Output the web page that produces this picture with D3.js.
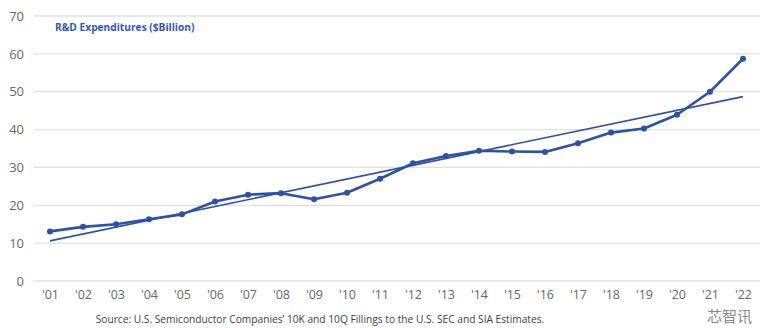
<!DOCTYPE html>
<html><head><meta charset="utf-8">
<script src="https://cdn.jsdelivr.net/npm/d3@7"></script>
<style>body{margin:0;background:#fff}svg{display:block}</style>
</head><body>
<svg id="c" width="771" height="328"></svg>
<script>
const years = ["'01","'02","'03","'04","'05","'06","'07","'08","'09","'10","'11","'12","'13","'14","'15","'16","'17","'18","'19","'20","'21","'22"];
const rd = [13.1,14.3,15.0,16.3,17.6,21.0,22.8,23.2,21.6,23.3,27.0,31.1,33.0,34.4,34.2,34.1,36.4,39.2,40.3,43.9,50.0,58.7];
const trend = [10.6,48.7];
const yTicks = [0,10,20,30,40,50,60,70];
const title = "R&D Expenditures ($Billion)";
const source = "Source: U.S. Semiconductor Companies\u2019 10K and 10Q Fillings to the U.S. SEC and SIA Estimates.";
const watermark = "芯智讯";

const svg = d3.select("#c");
const x = d3.scalePoint().domain(years).range([50,743]);
const y = d3.scaleLinear().domain([0,70]).range([281,16]);
const col = "#2b51a9";

const grid = svg.append("g");
grid.selectAll("line").data(yTicks).join("line")
  .attr("x1",34).attr("x2",760).attr("y1",d=>y(d)).attr("y2",d=>y(d))
  .attr("stroke","#e0e0e0").attr("stroke-width",1.3);

const yAxis = d3.axisLeft(y).tickValues(yTicks).tickSize(0).tickPadding(0);
svg.append("g").attr("transform","translate(24,0)").call(yAxis)
  .call(g=>g.select(".domain").remove())
  .selectAll("text").attr("font-family","Open Sans, sans-serif").attr("font-size",13).attr("fill","#666");

const xAxis = d3.axisBottom(x).tickSize(0).tickPadding(0);
svg.append("g").attr("transform","translate(0,290)").call(xAxis)
  .call(g=>g.select(".domain").remove())
  .selectAll("text").attr("font-family","Open Sans, sans-serif").attr("font-size",12.5).attr("fill","#666");

svg.append("line")
  .attr("x1",x(years[0])).attr("y1",y(trend[0]))
  .attr("x2",x(years[years.length-1])).attr("y2",y(trend[1]))
  .attr("stroke",col).attr("stroke-width",1.6);

const line = d3.line().x((d,i)=>x(years[i])).y(d=>y(d));
svg.append("path").datum(rd).attr("d",line).attr("fill","none")
  .attr("stroke",col).attr("stroke-width",2.6).attr("stroke-linejoin","round");
svg.append("g").selectAll("circle").data(rd).join("circle")
  .attr("cx",(d,i)=>x(years[i])).attr("cy",d=>y(d)).attr("r",3).attr("fill",col);

svg.append("text").attr("x",55).attr("y",31).text(title)
  .attr("font-family","Open Sans, sans-serif").attr("font-weight","bold").attr("font-size",10.2).attr("fill","#2f56c4");

svg.append("text").attr("x",320).attr("y",323).attr("text-anchor","middle").text(source)
  .attr("font-family","Open Sans, sans-serif").attr("font-size",10.2).attr("fill","#404040");

svg.append("text").attr("x",752).attr("y",322).attr("text-anchor","end").text(watermark)
  .attr("font-family","Noto Sans CJK SC").attr("font-size",15).attr("fill","#888");
</script>
</body></html>
